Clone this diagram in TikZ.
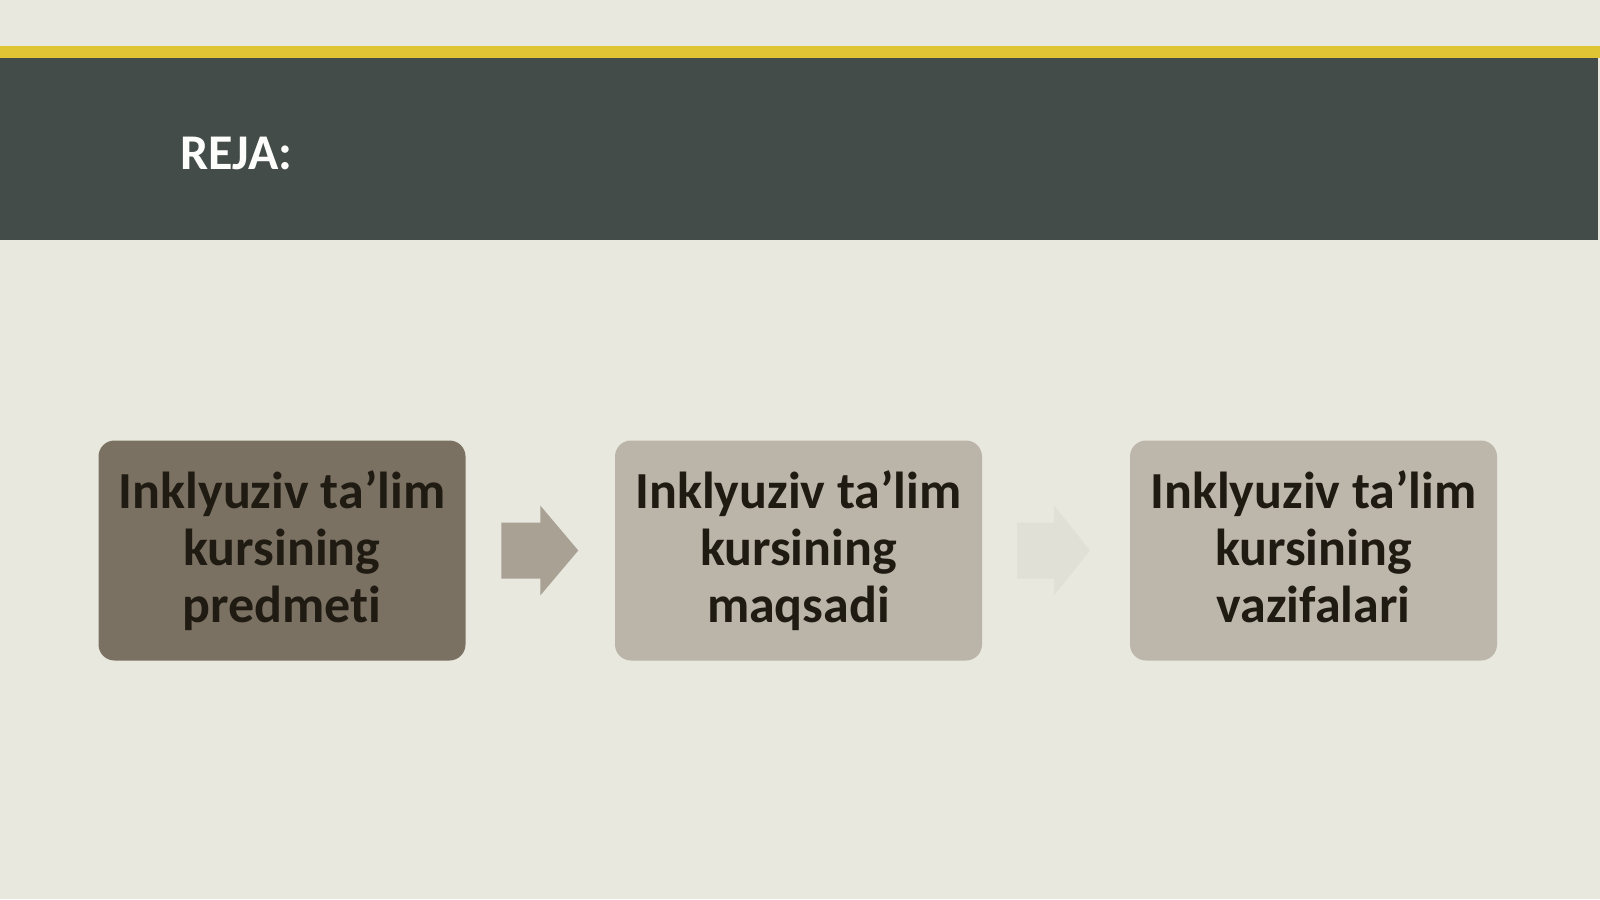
\documentclass[tikz,border=0pt]{standalone}
\usepackage{fontspec}
\usetikzlibrary{calc}
\setmainfont{Carlito}[RawFeature=-liga]
\definecolor{bgc}{HTML}{E8E8DF}
\definecolor{bandc}{HTML}{434C49}
\definecolor{yelc}{HTML}{DFC433}
\definecolor{boxa}{HTML}{7B7162}
\definecolor{boxb}{HTML}{BBB5A9}
\definecolor{boxc}{HTML}{BDB7AB}
\definecolor{arra}{HTML}{A9A194}
\definecolor{arrb}{HTML}{E0E0D6}
\definecolor{txtc}{HTML}{1F1B12}
\tikzset{
  stepbox/.style={draw=none, rounded corners=16pt, minimum width=367pt, minimum height=220pt,
    inner sep=0pt, align=center, text=txtc,
    font=\fontsize{52}{57}\selectfont\bfseries},
}
\begin{document}
\begin{tikzpicture}[x=1pt,y=-1pt]
\useasboundingbox (0,0) rectangle (1600,899);
\fill[bgc] (0,0) rectangle (1600,899);
\fill[yelc] (0,46) rectangle (1600,58);
\fill[bandc] (0,58) rectangle (1598,240);
\node[anchor=base west, text=white!92!bgc, font=\fontsize{50}{52}\selectfont\bfseries, inner sep=0pt] (title) at (180,169) {REJA:};

\node[stepbox, fill=boxa] (b1) at (282,550.5) {Inklyuziv ta’lim\\kursining\\predmeti\vphantom{g}};
\node[stepbox, fill=boxb] (b2) at (798.5,550.5) {Inklyuziv ta’lim\\kursining\\maqsadi\vphantom{g}};
\node[stepbox, fill=boxc] (b3) at (1313.5,550.5) {Inklyuziv ta’lim\\kursining\\vazifalari\vphantom{g}};

\coordinate (a1) at ($(b1.east)!0.5!(b2.west)$);
\coordinate (a2) at ($(b2.east)!0.5!(b3.west)$);
\fill[arra] ([xshift=-39pt]a1) ++(0,-28) -- ++(39,0) -- ++(0,-17) -- ++(38,45) -- ++(-38,45) -- ++(0,-17) -- ++(-39,0) -- cycle;
\fill[arrb] ([xshift=-39pt]a2) ++(0,-28) -- ++(37,0) -- ++(0,-17) -- ++(36,45) -- ++(-36,45) -- ++(0,-17) -- ++(-37,0) -- cycle;
\end{tikzpicture}
\end{document}
